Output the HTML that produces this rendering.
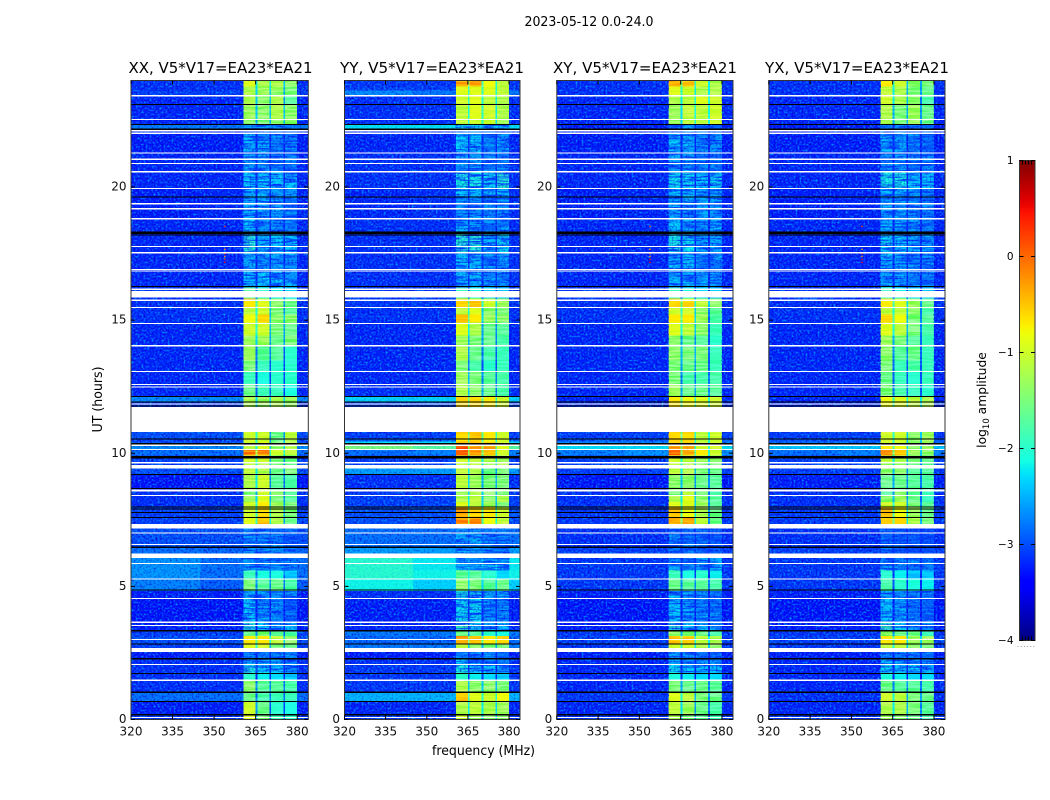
<!DOCTYPE html>
<html>
<head>
<meta charset="utf-8">
<title>2023-05-12 amplitude waterfall</title>
<style>
html,body{margin:0;padding:0;background:#fff;width:1050px;height:800px;overflow:hidden}
svg{display:block}
text{font-family:"DejaVu Sans","Liberation Sans",sans-serif;fill:#000}
.tick{font-size:12px;fill:#111}
.ttl{font-size:15.5px}
</style>
</head>
<body>
<svg id="chart" xmlns="http://www.w3.org/2000/svg" width="1050" height="800" viewBox="0 0 1050 800">
<defs>
<filter id="grain" x="0" y="0" width="1" height="1" color-interpolation-filters="sRGB">
<feTurbulence type="fractalNoise" baseFrequency=".5" numOctaves="2" seed="11" result="n"/>
<feColorMatrix in="n" type="matrix" values="0 0 0 0 0  0 0 0 0 .6  0 0 0 0 1  2.8 0 0 0 -1.25" result="light"/>
<feColorMatrix in="n" type="matrix" values="0 0 0 0 0  0 0 0 0 .04  0 0 0 0 .82  0 2.8 0 0 -1.3" result="dark"/>
<feMerge><feMergeNode in="light"/><feMergeNode in="dark"/></feMerge>
</filter>
<filter id="stripes" x="0" y="0" width="1" height="1" color-interpolation-filters="sRGB">
<feTurbulence type="fractalNoise" baseFrequency=".04 .55" numOctaves="2" seed="5"/>
<feColorMatrix type="matrix" values="3.2 0 0 0 -1.1  3.2 0 0 0 -1.1  3.2 0 0 0 -1.1  0 0 0 0 1"/>
</filter>
<filter id="faint-streaks" x="0" y="0" width="1" height="1" color-interpolation-filters="sRGB">
<feTurbulence type="fractalNoise" baseFrequency=".06 .6" numOctaves="2" seed="23" result="n"/>
<feColorMatrix in="n" type="matrix" values="0 0 0 0 0  0 0 0 0 .22  0 0 0 0 1  3.4 0 0 0 -1.4"/>
</filter>
<linearGradient id="jet-gradient" x1="0" y1="1" x2="0" y2="0"></linearGradient>
</defs>
<text x="589" y="26" text-anchor="middle" font-size="13" textLength="129" lengthAdjust="spacingAndGlyphs">2023-05-12 0.0-24.0</text>
<text x="483.5" y="755" text-anchor="middle" font-size="13" textLength="103" lengthAdjust="spacingAndGlyphs">frequency (MHz)</text>
<text transform="translate(102 399.5) rotate(-90)" text-anchor="middle" font-size="13" textLength="66" lengthAdjust="spacingAndGlyphs">UT (hours)</text>
<g id="panels"></g>
<g id="colorbar"></g>
<text transform="translate(986 400) rotate(-90)" text-anchor="middle" font-size="12.3">log<tspan font-size="8.5" dy="3">10</tspan><tspan dy="-3"> amplitude</tspan></text>
</svg>
<script>
/* UT (hours) at the top edge of each observed band, top of the plot downward */
const bandTopsUT=[24,23.77,23.62,23.43,23.10,22.53,22.35,22.15,22.01,21.30,20.58,19.94,19.64,18.82,18.29,17.54,16.90,16.23,15.82,15.74,15.47,15.22,14.92,14.43,14.05,13.49,13.08,12.59,12.12,11.91,10.79,10.56,10.45,10.30,10.15,9.92,9.62,9.44,9.21,8.57,8.42,8.16,7.97,7.60,7.19,6.49,6.06,5.61,5.29,4.82,4.56,3.62,3.32,3.13,2.83,2.53,2.31,2.08,1.78,1.44,1.03,0.69,0.21];
const bandBottomUT=0;
/* log10 amplitude per band: [background low, background high, spw1, spw2, spw3, spw4] */
const xxBands=[
[-3.2,-3.2,-.9,-1.2,-1.2,-1.4],[-3.2,-3.2,-1.2,-1.3,-1.3,-1.5],[-3.1,-3.1,-1.2,-1.3,-1.4,-1.5],[-3.25,-3.25,-1.2,-1.4,-1.2,-1.7],[-3.25,-3.25,-1.3,-1.4,-1.2,-1.4],[-3.25,-3.25,-1.4,-1.5,-1.4,-1.4],[-2.75,-2.75,-2.5,-2.5,-2.5,-2.6],[-3.3,-3.3,-2.4,-2.5,-2.6,-2.7],[-3.3,-3.3,-2.4,-2.5,-2.7,-2.7],[-3.25,-3.25,-2.5,-2.5,-2.7,-2.7],
[-3.25,-3.25,-2.3,-2.3,-2.3,-2.3],[-3.3,-3.25,-2.4,-2.4,-2.5,-2.5],[-3.3,-3.25,-2.4,-2.5,-2.5,-2.7],[-3.25,-3.25,-2.3,-2.5,-2.6,-2.6],[-3.25,-3.25,-2,-2.4,-2.3,-2.3],[-3.25,-3.25,-2.4,-2.5,-2.5,-2.6],[-3.25,-3.25,-2.3,-2.3,-2.4,-2.5],[-3.2,-3.2,-1.7,-2,-2.2,-2.3],[-3.2,-3.2,-.5,-1,-1.3,-1.5],[-3.2,-3.2,-.7,-.9,-1.4,-1.6],
[-3.2,-3.2,-1.1,-1,-1.5,-1.7],[-3.2,-3.2,-.8,-.6,-1.4,-1.4],[-3.25,-3.25,-1,-1,-1.5,-1.6],[-3.25,-3.25,-1.3,-1.3,-1.6,-1.5],[-3.25,-3.25,-1.3,-1.7,-1.7,-2],[-3.25,-3.25,-1.5,-1.9,-2,-2],[-3.25,-3.25,-1.9,-2.1,-2,-2],[-3.25,-3.25,-1.6,-1.9,-1.9,-2.1],[-2.65,-2.65,-1.2,-1.3,-1.2,-1.3],[-3.2,-3.2,-1.2,-1.3,-1.2,-1.3],
[-3,-3,-1,-1,-1.6,-1.1],[-3.1,-3.1,-1,-1,-1.6,-1.2],[-3,-3,-1,-.9,-1.5,-1.2],[-2.65,-2.65,-1.1,-.9,-1.4,-1.2],[-2.8,-2.8,-.1,-.2,-1,-1.1],[-3.1,-3.1,-1,-1,-1.5,-1.6],[-3.1,-3.1,-1.1,-1.2,-1.5,-1.6],[-3,-3,-1.1,-1.2,-1.6,-1.5],[-3.35,-3.35,-1.2,-1,-1.7,-1.8],[-3.2,-3.2,-1.5,-1,-1.4,-1.7],
[-3.2,-3.2,-1.3,-.9,-1.5,-1.7],[-3.2,-3.2,-1,-.7,-1.3,-1.5],[-3.1,-3.1,-1,-.6,-1.2,-1.5],[-3.1,-3.1,-.9,-.5,-1.2,-1.6],[-3,-3,-2.6,-2.7,-2.7,-2.8],[-2.8,-2.85,-2.5,-2.6,-2.6,-2.7],[-2.6,-2.8,-2.5,-2.6,-2.6,-2.7],[-2.6,-2.8,-1.9,-2.1,-2.1,-2.4],[-2.7,-2.9,-1.5,-1.7,-1.6,-1.8],[-3.3,-3.3,-2.4,-2.5,-2.6,-2.6],
[-3.35,-3.35,-2.3,-2.6,-2.6,-2.8],[-3.3,-3.3,-2,-2.3,-2.5,-2.5],[-3.1,-3.1,-1.6,-1.5,-1.7,-1.8],[-3,-3,-.7,-.7,-1.1,-1.4],[-3.1,-3.1,-.9,-1,-1.5,-1.6],[-3.3,-3.3,-2.6,-2.6,-2.7,-2.7],[-3.2,-3.2,-2.4,-2.5,-2.6,-2.7],[-3.2,-3.2,-2.1,-2.3,-2.3,-2.5],[-3.2,-3.2,-2,-2.2,-2.3,-2.4],[-3.2,-3.2,-1.4,-1.7,-1.7,-1.8],
[-2.8,-2.8,-1.6,-1.8,-1.9,-1.9],[-3.3,-3.3,-1,-1.6,-2,-2.1],[-3.2,-3.2,-.9,-1.5,-1.9,-2]];
const yyBands=[
[-3.15,-3.15,-.3,-.3,-.8,-1.1],[-3.1,-3.1,-.9,-.9,-.9,-1.1],[-2.65,-2.75,-.9,-.9,-.9,-1.1],[-3.2,-3.2,-1,-.9,-1.1,-1.2],[-3.2,-3.2,-1.1,-.9,-1,-1.2],[-3.2,-3.2,-1.1,-1,-1,-1.3],[-2.25,-2.25,-2.2,-2.2,-2.3,-2.3],[-3.2,-3.2,-2.3,-2.4,-2.6,-2.6],[-3.25,-3.25,-2.3,-2.3,-2.7,-2.5],[-3.2,-3.2,-2.5,-2.5,-2.7,-2.6],
[-3.2,-3.2,-2.1,-2.1,-2.2,-2],[-3.25,-3.2,-2.3,-2.3,-2.5,-2.4],[-3.25,-3.2,-2.5,-2.5,-2.7,-2.6],[-3.2,-3.2,-2.5,-2.5,-2.7,-2.6],[-3.2,-3.2,-2,-2,-2.3,-2.2],[-3.2,-3.2,-2.3,-2.4,-2.6,-2.6],[-3.2,-3.2,-2.4,-2.4,-2.6,-2.6],[-3.15,-3.15,-1.9,-2.1,-2.3,-2.4],[-3.15,-3.15,-.6,-.8,-1,-1.3],[-3.15,-3.15,-.6,-.5,-1,-1.3],
[-3.2,-3.2,-1.1,-.9,-1.4,-1.5],[-3.2,-3.2,-.5,-.7,-1.3,-1.4],[-3.25,-3.25,-.9,-1.2,-1.6,-1.7],[-3.25,-3.25,-1.3,-1.5,-1.6,-1.8],[-3.25,-3.25,-1.2,-1.6,-1.8,-1.9],[-3.25,-3.25,-1.5,-1.8,-2,-1.9],[-3.25,-3.25,-1.3,-1.5,-1.7,-1.8],[-3.2,-3.2,-1.2,-1.4,-1.6,-1.8],[-2.3,-2.3,-.6,-.6,-.7,-1],[-3.1,-3.1,-.6,-.6,-.7,-1],
[-3.1,-3.1,-.6,-.5,-.7,-1],[-2.9,-2.9,-.7,-.6,-.8,-1],[-2.25,-2.25,-.5,-.5,-.6,-1],[-1.5,-1.7,.1,-.3,-.3,-.9],[-2.8,-2.7,0,-.3,-.5,-1],[-3.1,-3.1,-1,-1.1,-1.2,-1.3],[-3.1,-3.1,-1.1,-1.1,-1.3,-1.2],[-2.55,-2.55,-1.1,-1.2,-1.6,-1.5],[-3.2,-3.2,-1.1,-1.3,-1.5,-1.5],[-3.15,-3.15,-1.3,-1.2,-1.4,-1.5],
[-3.1,-3.1,-1.2,-1.1,-1.4,-1.2],[-3.1,-3.1,-.9,-1.1,-1.3,-1.5],[-3,-3,-.4,-.6,-.7,-1],[-3,-3,-.2,-.2,-.8,-1.1],[-2.8,-2.8,-2.5,-2.5,-2.6,-2.7],[-2.55,-2.55,-2.4,-2.5,-2.6,-2.6],[-2,-2.2,-2.4,-2.5,-2.5,-2.6],[-2,-2.15,-1.7,-1.7,-2,-2.3],[-2.15,-2.3,-1.4,-1.5,-1.7,-1.6],[-3.2,-3.2,-2.1,-2.2,-2.6,-2.5],
[-3.3,-3.3,-2.2,-2.2,-2.6,-2.6],[-3.25,-3.25,-1.9,-2.2,-2.4,-2.4],[-2.75,-2.75,-1.6,-1.7,-2,-2.1],[-2.85,-2.85,-.3,-.5,-.7,-.6],[-2.75,-2.75,-1.1,-1.4,-1.5,-1.5],[-3.3,-3.3,-2.6,-2.6,-2.7,-2.7],[-3.2,-3.2,-2.4,-2.5,-2.6,-2.7],[-3.15,-3.15,-2.1,-2.3,-2.3,-2.5],[-3.15,-3.15,-2,-2.2,-2.3,-2.4],[-3.15,-3.15,-1.2,-1.4,-1.4,-1.5],
[-2.45,-2.45,-.5,-.9,-1,-.8],[-3.25,-3.25,-1.2,-1.1,-1.2,-1.3],[-3.15,-3.15,-1,-1.3,-1.4,-1.4]];
const xyBands=[
[-3.2,-3.2,-.4,-.5,-1,-1.2],[-3.2,-3.2,-.9,-1,-1.2,-1.2],[-3.2,-3.2,-.9,-1,-1.2,-1.2],[-3.25,-3.25,-1.2,-1.1,-.9,-1],[-3.25,-3.25,-1.3,-1.1,-1.1,-1],[-3.25,-3.25,-1.3,-1.1,-1.1,-1],[-3.3,-3.3,-2.6,-2.6,-2.7,-2.7],[-3.3,-3.3,-2.4,-2.4,-2.6,-2.7],[-3.3,-3.3,-2.3,-2.4,-2.6,-2.6],[-3.25,-3.25,-2.5,-2.5,-2.7,-2.7],
[-3.25,-3.25,-2.2,-2.2,-2.3,-2.2],[-3.3,-3.25,-2.3,-2.3,-2.5,-2.5],[-3.3,-3.25,-2.4,-2.4,-2.5,-2.6],[-3.25,-3.25,-2.3,-2.4,-2.6,-2.5],[-3.25,-3.25,-2.1,-2.2,-2.5,-2.4],[-3.25,-3.25,-2.4,-2.4,-2.6,-2.6],[-3.25,-3.25,-2.4,-2.4,-2.5,-2.6],[-3.2,-3.2,-1.9,-2.1,-2.3,-2.4],[-3.2,-3.2,-.5,-.8,-1.2,-1.4],[-3.2,-3.2,-.6,-.6,-1.1,-1.4],
[-3.2,-3.2,-1,-1,-1.4,-1.7],[-3.2,-3.2,-.7,-.7,-1.3,-1.8],[-3.25,-3.25,-.9,-1.1,-1.4,-1.9],[-3.25,-3.25,-1.4,-1.6,-1.7,-2],[-3.25,-3.25,-1.4,-1.5,-1.5,-1.9],[-3.25,-3.25,-1.5,-1.6,-1.6,-1.9],[-3.25,-3.25,-1.5,-1.8,-1.8,-1.8],[-3.25,-3.25,-1.3,-1.6,-1.6,-1.7],[-3.25,-3.25,-.7,-.8,-.9,-1],[-3.25,-3.25,-.7,-.8,-.9,-1],
[-3.1,-3.1,-.6,-.6,-1.1,-1],[-2.9,-2.9,-.6,-.6,-1.1,-1],[-2.7,-2.7,-.6,-.6,-1.1,-1],[-2.25,-2.25,-.3,-.4,-1,-1],[-2.7,-2.6,0,-.4,-.7,-1],[-3.1,-3.1,-1,-1.1,-1.3,-1.4],[-3.1,-3.1,-1.1,-1.2,-1.4,-1.5],[-3.1,-3.1,-1.1,-1.2,-1.5,-1.6],[-3.35,-3.35,-1.4,-1.4,-1.6,-1.7],[-3.2,-3.2,-1.5,-1.1,-1.5,-1.8],
[-3.2,-3.2,-1.2,-.9,-1.4,-1.7],[-3.2,-3.2,-.9,-.9,-1.3,-1.7],[-3.15,-3.15,-.5,-.8,-1.2,-1.6],[-3.15,-3.15,-.4,-.3,-1.1,-1.6],[-3.2,-3.2,-2.7,-2.8,-2.8,-2.9],[-3.1,-3.1,-2.7,-2.8,-2.8,-2.9],[-3.15,-3.15,-2.5,-2.6,-2.5,-2.4],[-3.15,-3.15,-1.9,-2.1,-2,-2.2],[-3.15,-3.15,-1.6,-1.7,-1.7,-1.8],[-3.3,-3.3,-2.4,-2.5,-2.6,-2.6],
[-3.35,-3.35,-2.3,-2.5,-2.6,-2.7],[-3.3,-3.3,-2,-2.3,-2.4,-2.5],[-3.15,-3.15,-1.4,-1.5,-1.6,-1.8],[-3.1,-3.1,-.5,-.5,-1.1,-1.2],[-3.15,-3.15,-1,-1,-1.2,-1.4],[-3.3,-3.3,-2.6,-2.6,-2.7,-2.7],[-3.25,-3.25,-2.4,-2.5,-2.6,-2.7],[-3.25,-3.25,-2.2,-2.3,-2.3,-2.3],[-3.25,-3.25,-2.1,-2.2,-2.3,-2.3],[-3.25,-3.25,-1.5,-1.6,-1.6,-1.7],
[-3.15,-3.15,-.9,-1.1,-1.5,-1.6],[-3.25,-3.25,-1.1,-1.3,-1.6,-1.8],[-3.2,-3.2,-1.2,-1.5,-1.7,-1.9]];
const yxBands=[
[-3.2,-3.2,-.7,-1,-1.4,-1.5],[-3.2,-3.2,-1.1,-1.2,-1.5,-1.6],[-3.2,-3.2,-1.1,-1.2,-1.5,-1.6],[-3.25,-3.25,-1,-1.2,-1.4,-1.8],[-3.25,-3.25,-1.2,-1.5,-1.3,-1.6],[-3.25,-3.25,-1.2,-1.5,-1.3,-1.6],[-3.3,-3.3,-2.6,-2.6,-2.7,-2.8],[-3.3,-3.3,-2.5,-2.5,-2.7,-2.8],[-3.3,-3.3,-2.4,-2.5,-2.7,-2.8],[-3.25,-3.25,-2.6,-2.6,-2.7,-2.7],
[-3.25,-3.25,-2.1,-2.1,-2.3,-2.3],[-3.3,-3.25,-2.3,-2.4,-2.5,-2.6],[-3.3,-3.25,-2.5,-2.5,-2.7,-2.7],[-3.25,-3.25,-2.4,-2.5,-2.6,-2.7],[-3.25,-3.25,-2.2,-2.3,-2.5,-2.5],[-3.25,-3.25,-2.4,-2.5,-2.7,-2.7],[-3.25,-3.25,-2.4,-2.5,-2.6,-2.7],[-3.2,-3.2,-1.9,-2.2,-2.3,-2.4],[-3.2,-3.2,-.7,-.9,-1.3,-1.6],[-3.2,-3.2,-.7,-.9,-1.3,-1.6],
[-3.2,-3.2,-1.1,-1.1,-1.4,-1.8],[-3.2,-3.2,-.6,-.8,-1.5,-1.7],[-3.25,-3.25,-.9,-1.1,-1.5,-1.8],[-3.25,-3.25,-1.3,-1.5,-1.7,-1.9],[-3.25,-3.25,-1.4,-1.7,-1.6,-1.9],[-3.25,-3.25,-1.5,-1.9,-1.8,-1.9],[-3.25,-3.25,-1.6,-1.9,-2,-1.9],[-3.25,-3.25,-1.5,-1.8,-1.9,-2],[-3.25,-3.25,-.8,-.9,-1.1,-1.2],[-3.25,-3.25,-.8,-.9,-1.1,-1.2],
[-3.1,-3.1,-1,-1,-1.4,-1.3],[-3,-3,-1,-1,-1.4,-1.3],[-2.8,-2.8,-1,-1,-1.4,-1.3],[-2.35,-2.35,-.7,-.8,-1.4,-1.3],[-2.8,-2.7,-.3,-.5,-1.3,-1.4],[-3.1,-3.1,-1.1,-1.2,-1.5,-1.6],[-3.1,-3.1,-1.3,-1.3,-1.6,-1.7],[-3.1,-3.1,-1.4,-1.4,-1.7,-1.7],[-3.3,-3.3,-1.6,-1.6,-1.7,-1.8],[-3.2,-3.2,-1.7,-1.4,-1.7,-1.9],
[-3.2,-3.2,-1.4,-1.3,-1.6,-1.9],[-3.2,-3.2,-1,-1,-1.5,-1.7],[-3.15,-3.15,-.5,-.8,-1.3,-1.6],[-3.15,-3.15,-.5,-.6,-1.2,-1.5],[-3.2,-3.2,-2.8,-2.9,-2.9,-3],[-3.1,-3.1,-2.8,-2.9,-2.9,-3],[-3.15,-3.15,-2.6,-2.6,-2.7,-2.7],[-3.15,-3.15,-2,-2.2,-2.4,-2.4],[-3.15,-3.15,-1.8,-2,-2.1,-2.2],[-3.3,-3.3,-2.4,-2.5,-2.7,-2.7],
[-3.35,-3.35,-2.3,-2.5,-2.7,-2.8],[-3.3,-3.3,-1.9,-2.2,-2.5,-2.6],[-3.15,-3.15,-1.4,-1.6,-1.6,-1.9],[-3.1,-3.1,-.7,-.7,-1.3,-1.3],[-3.15,-3.15,-1.1,-1.1,-1.4,-1.5],[-3.3,-3.3,-2.6,-2.6,-2.7,-2.7],[-3.25,-3.25,-2.4,-2.5,-2.6,-2.7],[-3.25,-3.25,-2.2,-2.3,-2.3,-2.3],[-3.25,-3.25,-2.1,-2.2,-2.3,-2.3],[-3.25,-3.25,-1.6,-1.7,-1.7,-1.8],
[-3.2,-3.2,-1,-1.1,-1.5,-1.6],[-3.25,-3.25,-1.2,-1.2,-1.5,-1.7],[-3.2,-3.2,-1.3,-1.4,-1.6,-1.8]];
/* flagged integrations (UT hours) shared by all correlations */
const whiteLinesUT=[23.43,22.54,22.11,22.02,21.28,21.04,20.88,20.57,19.94,19.37,19.18,18.81,17.76,17.53,16.90,16.84,15.47,14.87,14.04,13.07,12.58,12.49,11.85,10.30,10.14,9.64,8.41,7.00,6.57,5.86,5.28,4.55,3.65,3.53,3.01,2.07,0.08];
const whiteStartsUT=[16.19,16.09,15.77,11.73,9.55,8.64,7.34,6.24,2.68,1.51];
const whiteEndsUT=[16.14,15.85,15.71,10.80,9.43,8.57,7.17,6.06,2.53,1.44];
const blackLinesUT=[23.10,22.35,22.17,19.63,18.30,18.25,18.20,16.26,12.13,11.93,11.77,10.54,10.36,9.88,9.83,9.20,8.68,7.98,7.91,7.77,7.59,6.47,4.86,3.33,2.84,2.28,1.73,1.02,0.68,0.18];
/* low-signal stretches of the four spectral windows (UT hours) */
const faintStartsUT=[22.35,7.19,4.82,2.53];
const faintEndsUT=[16.23,5.61,3.32,1.78];
/* isolated hot channel seen in XX, XY and YX */
const rfiFreqs=[353.6,353.6,353.6,353.6,353.6,353.6];
const rfiTimes=[18.52,17.66,17.5,17.39,17.28,17.17];
const rfiValues=[0.2,-0.3,0.2,-0.2,0.4,0.5];
const xTickValues=[320,335,350,365,380];
const yTickValues=[0,5,10,15,20];
const colorbarTickValues=[1,0,-1,-2,-3,-4];
const panelTitles=["XX, V5*V17=EA23*EA21","YY, V5*V17=EA23*EA21","XY, V5*V17=EA23*EA21","YX, V5*V17=EA23*EA21"];
const panelBands=[xxBands,yyBands,xyBands,yxBands];
const panelKeys=["xx","yy","xy","yx"];
const panelBoxes=[[131,308.3],[344.5,520],[556.8,733],[768.8,945]];
const titleCenters=[220.5,432,645,857];
const TOP=80.5,BOTTOM=719.5,FMIN=320,FMAX=384,VMIN=-4,VMAX=1;
const SVGNS="http://www.w3.org/2000/svg";
const root=document.getElementById("panels");
function utY(ut){return BOTTOM-(BOTTOM-TOP)*ut/24;}
function interp(pts,f){for(let i=1;i<pts.length;i++){if(f<=pts[i][0]){const a=pts[i-1],b=pts[i];return a[1]+(b[1]-a[1])*(f-a[0])/(b[0]-a[0]);}}return pts[pts.length-1][1];}
const jetRed=[[0,0],[.35,0],[.66,1],[.89,1],[1,.5]];
const jetGreen=[[0,0],[.125,0],[.375,1],[.64,1],[.91,0],[1,0]];
const jetBlue=[[0,.5],[.11,1],[.34,1],[.65,0],[1,0]];
function jetColor(f){f=Math.max(0,Math.min(1,f));return "rgb("+Math.round(255*interp(jetRed,f))+","+Math.round(255*interp(jetGreen,f))+","+Math.round(255*interp(jetBlue,f))+")";}
function ampColor(v){return jetColor((v-VMIN)/(VMAX-VMIN));}
function mk(tag,parent){const e=document.createElementNS(SVGNS,tag);parent.appendChild(e);return e;}
function rect(parent,x,y,w,h,fill){const e=mk("rect",parent);e.setAttribute("x",x);e.setAttribute("y",y);e.setAttribute("width",w);e.setAttribute("height",h);e.setAttribute("fill",fill);return e;}

panelBands.forEach(function(rows,p){
  const box=panelBoxes[p],x0=box[0],x1=box[1],key=panelKeys[p];
  const fx=function(f){return x0+(x1-x0)*(f-FMIN)/(FMAX-FMIN);};
  const g=mk("g",root);
  
  
  g.setAttribute("style","isolation:isolate");
  const img=mk("g",g);
  
  
  img.setAttribute("shape-rendering","crispEdges");
  rows.forEach(function(r,i){
    const y0=utY(bandTopsUT[i]);
    const y1=utY(i+1<bandTopsUT.length?bandTopsUT[i+1]:bandBottomUT);
    const gapValue=function(a,b){return Math.max(r[1],Math.min(a,b)-1);};
    const cols=[[320,345,r[0]],[345,360.6,r[1]],[360.6,365,r[2]],[365,365.6,gapValue(r[2],r[3])],[365.6,370,r[3]],[370,370.6,gapValue(r[3],r[4])],[370.6,375,r[4]],[375,375.6,gapValue(r[4],r[5])],[375.6,380,r[5]],[380,384,r[1]]];
    cols.forEach(function(c){
      const cell=rect(img,fx(c[0]),y0,fx(c[1])-fx(c[0]),y1-y0,ampColor(c[2]));
      
      
    });
  });
  /* decorative speckle and streak textures only: they carry no values */
  const g1=rect(g,x0,TOP,fx(360.6)-x0,BOTTOM-TOP,"#808080");
  g1.setAttribute("filter","url(#grain)");
  
  
  const g2=rect(g,fx(380),TOP,x1-fx(380),BOTTOM-TOP,"#808080");
  g2.setAttribute("filter","url(#grain)");
  
  
  /* bright background rows are smooth in the source: veil the speckle there */
  const veil=mk("g",g);
  
  
  veil.setAttribute("shape-rendering","crispEdges");
  rows.forEach(function(r,i){
    const y0=utY(bandTopsUT[i]);
    const y1=utY(i+1<bandTopsUT.length?bandTopsUT[i+1]:bandBottomUT);
    [[320,345,r[0]],[345,360.6,r[1]],[380,384,r[1]]].forEach(function(c){
      const op=Math.min(.85,Math.max(0,(c[2]+2.95)*1.1));
      if(op>0){
        const v=rect(veil,fx(c[0]),y0,fx(c[1])-fx(c[0]),y1-y0,ampColor(c[2]));
        v.setAttribute("opacity",op);
        
        
      }
    });
  });
  const g3=rect(g,fx(360.6),TOP,fx(380)-fx(360.6),BOTTOM-TOP,"#808080");
  g3.setAttribute("filter","url(#stripes)");
  g3.setAttribute("style","mix-blend-mode:overlay");
  g3.setAttribute("opacity",".3");
  
  
  faintStartsUT.forEach(function(s,i){
    const h=utY(faintEndsUT[i])-utY(s);
    const f1=rect(g,fx(360.6),utY(s),fx(380)-fx(360.6),h,"#808080");
    f1.setAttribute("filter","url(#faint-streaks)");
    
    
    const f2=rect(g,fx(360.6),utY(s),fx(380)-fx(360.6),h,"#808080");
    f2.setAttribute("filter","url(#grain)");
    f2.setAttribute("opacity",".6");
    
    
  });
  if(key!=="yy"){
    rfiFreqs.forEach(function(fr,i){
      const d=rect(g,fx(fr),utY(rfiTimes[i])-.7,1.4,1.4,ampColor(rfiValues[i]));
      
      
    });
  }
  const flags=mk("g",g);
  
  
  flags.setAttribute("shape-rendering","crispEdges");
  whiteStartsUT.forEach(function(s,i){
    const f=rect(flags,x0,utY(s),x1-x0,utY(whiteEndsUT[i])-utY(s),"#fff");
    
    
  });
  whiteLinesUT.forEach(function(u){
    const f=rect(flags,x0,utY(u)-.6,x1-x0,1.2,"#fff");
    
    
  });
  blackLinesUT.forEach(function(u){
    const f=rect(flags,x0,utY(u)-.6,x1-x0,1.2,"#000");
    
    
  });
  const frame=rect(g,x0,TOP,x1-x0,BOTTOM-TOP,"none");
  frame.setAttribute("stroke","#333");
  frame.setAttribute("stroke-width","1");
  
  
  xTickValues.forEach(function(v){
    const x=fx(v);
    const t=mk("path",g);
    t.setAttribute("d","M"+x+" "+BOTTOM+"v-4M"+x+" "+TOP+"v4");
    t.setAttribute("stroke","#000");
    
    
    const l=mk("text",g);
    l.setAttribute("x",x);
    l.setAttribute("y",735.5);
    l.setAttribute("text-anchor","middle");
    l.setAttribute("class","tick");
    
    
    l.textContent=v;
  });
  yTickValues.forEach(function(v){
    const y=utY(v);
    const t=mk("path",g);
    t.setAttribute("d","M"+x0+" "+y+"h4M"+x1+" "+y+"h-4");
    t.setAttribute("stroke","#000");
    
    
    const l=mk("text",g);
    l.setAttribute("x",x0-4.5);
    l.setAttribute("y",y+3.5);
    l.setAttribute("text-anchor","end");
    l.setAttribute("class","tick");
    
    
    l.textContent=v;
  });
  const title=mk("text",g);
  title.setAttribute("x",titleCenters[p]);
  title.setAttribute("y",73);
  title.setAttribute("text-anchor","middle");
  title.setAttribute("class","ttl");
  title.setAttribute("textLength","184");
  title.setAttribute("lengthAdjust","spacingAndGlyphs");
  
  
  title.textContent=panelTitles[p];
});

/* colour bar */
const grad=document.getElementById("jet-gradient");
for(let i=0;i<=64;i++){
  const st=mk("stop",grad);
  st.setAttribute("offset",i/64);
  st.setAttribute("stop-color",jetColor(i/64));
}
const cb=document.getElementById("colorbar");
const CBX0=1019.5,CBX1=1035,CBY0=160.5,CBY1=640.5;
const cbRect=rect(cb,CBX0,CBY0,CBX1-CBX0,CBY1-CBY0,"url(#jet-gradient)");
cbRect.setAttribute("stroke","#333");


colorbarTickValues.forEach(function(v){
  const y=CBY1-(CBY1-CBY0)*(v-VMIN)/(VMAX-VMIN);
  const t=mk("path",cb);
  t.setAttribute("d","M"+CBX0+" "+y+"h4M"+CBX1+" "+y+"h-4");
  t.setAttribute("stroke","#000");
  
  
  const l=mk("text",cb);
  l.setAttribute("x",1013.5);
  l.setAttribute("y",y+3.5);
  l.setAttribute("text-anchor","end");
  l.setAttribute("font-size","10.5");
  
  
  l.textContent=String(v).replace("-","\u2212");
});
[1022.5,1025.5,1028.5,1031.5].forEach(function(x){
  const t=mk("path",cb);
  t.setAttribute("d","M"+x+" "+CBY0+"v4M"+x+" "+CBY1+"v-4");
  t.setAttribute("stroke","#000");
  
  
});
const dots=mk("path",cb);
dots.setAttribute("d","M1017.5 646.5H1035");
dots.setAttribute("stroke","#999");
dots.setAttribute("stroke-dasharray","1 2.2");


</script>
</body>
</html>
